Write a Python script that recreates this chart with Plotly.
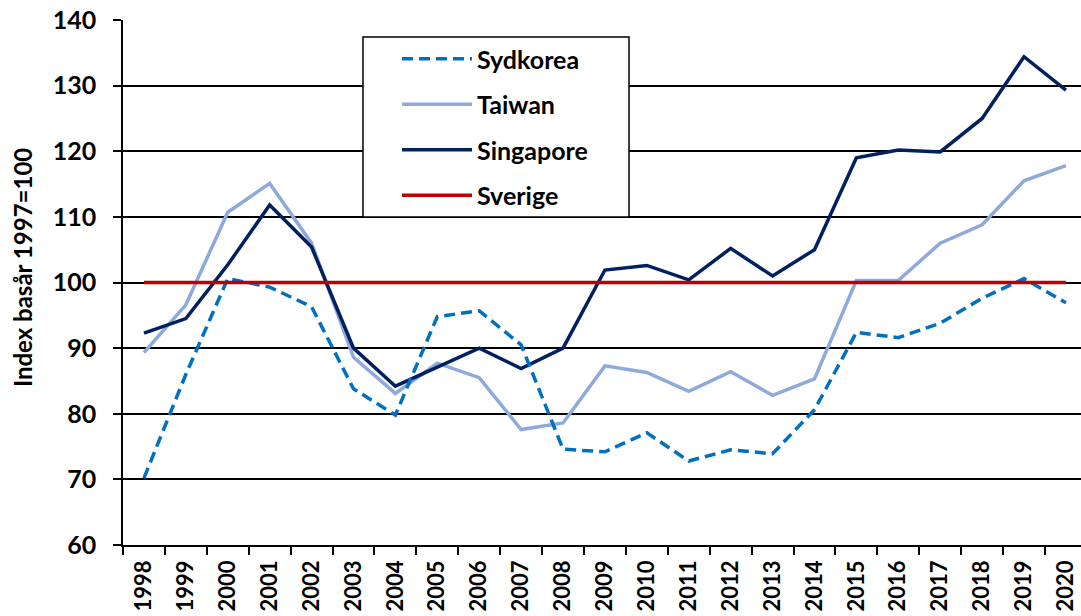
import plotly.graph_objects as go

years = [str(y) for y in range(1998, 2021)]
sydkorea = [70.2, 86.0, 100.6, 99.3, 96.3, 83.8, 79.8, 94.8, 95.7, 90.5, 74.6, 74.2, 77.1, 72.8, 74.5, 73.9, 80.6, 92.4, 91.6, 93.8, 97.6, 100.6, 96.9]
taiwan = [89.3, 96.6, 110.7, 115.1, 106.0, 88.6, 83.1, 87.7, 85.5, 77.6, 78.6, 87.3, 86.3, 83.4, 86.4, 82.8, 85.3, 100.3, 100.3, 106.0, 108.8, 115.5, 117.8]
singapore = [92.3, 94.5, 102.7, 111.8, 105.4, 90.0, 84.2, 87.1, 90.0, 86.9, 90.0, 101.9, 102.6, 100.4, 105.2, 101.0, 105.0, 119.0, 120.2, 119.9, 125.0, 134.4, 129.3]
sverige = [100.0] * len(years)

FONT = "Lato"

fig = go.Figure()
series = [
    ("Taiwan", taiwan, "#8EA9DB", "solid", 2),
    ("Singapore", singapore, "#002060", "solid", 3),
    ("Sydkorea", sydkorea, "#0070C0", "11px,6px", 1),
    ("Sverige", sverige, "#C00000", "solid", 4),
]
for name, vals, color, dash, rank in series:
    fig.add_trace(go.Scatter(
        x=years, y=vals, mode="lines", name=name,
        line=dict(color=color, width=3.5, dash=dash),
        legendrank=rank, legendgroup=name,
    ))

# legend frame (white box covering gridlines; legend drawn on top of it)
fig.add_shape(type="rect", xref="paper", yref="paper",
              x0=0.2505, x1=0.5282, y0=0.625, y1=0.9676,
              fillcolor="white", line=dict(color="black", width=1.5),
              layer="above")

# y-axis title
fig.add_annotation(text="Index basår 1997=100", xref="paper", yref="paper",
                   x=-0.1054, y=(545 - 268) / 525, xanchor="center", yanchor="middle",
                   textangle=-90, showarrow=False,
                   font=dict(family=FONT, size=24, weight="bold", color="black"))

fig.update_layout(
    width=1081, height=616,
    margin=dict(l=123, r=0, t=20, b=71, autoexpand=False),
    plot_bgcolor="white", paper_bgcolor="white",
    font=dict(family=FONT, color="black"),
    showlegend=True,
    legend=dict(
        x=0.286, y=0.9695, xanchor="left", yanchor="top",
        bgcolor="rgba(0,0,0,0)", borderwidth=0,
        font=dict(family=FONT, size=25, color="black", weight="bold"),
        itemwidth=70, tracegroupgap=10, traceorder="grouped",
    ),
    xaxis=dict(
        type="category", range=[-0.5, 22.36], automargin=False,
        showline=True, linecolor="black", linewidth=1.5,
        ticks="outside", ticklen=8, tickcolor="black", tickwidth=1.5,
        tickson="boundaries", showgrid=False,
        tickangle=-90, ticklabelstandoff=5,
        tickfont=dict(family=FONT, size=22, weight="bold", color="black"),
    ),
    yaxis=dict(
        range=[60, 140], dtick=10, automargin=False,
        showline=True, linecolor="black", linewidth=1.5,
        ticks="outside", ticklen=8, tickcolor="black", tickwidth=1.5,
        showgrid=True, gridcolor="black", gridwidth=1.5,
        zeroline=False, ticklabelstandoff=12,
        tickfont=dict(family=FONT, size=25, weight="bold", color="black"),
    ),
)

fig.write_html("out.html", config={"displayModeBar": False},
               post_script="document.body.style.margin='0px';document.body.style.padding='0px';")
